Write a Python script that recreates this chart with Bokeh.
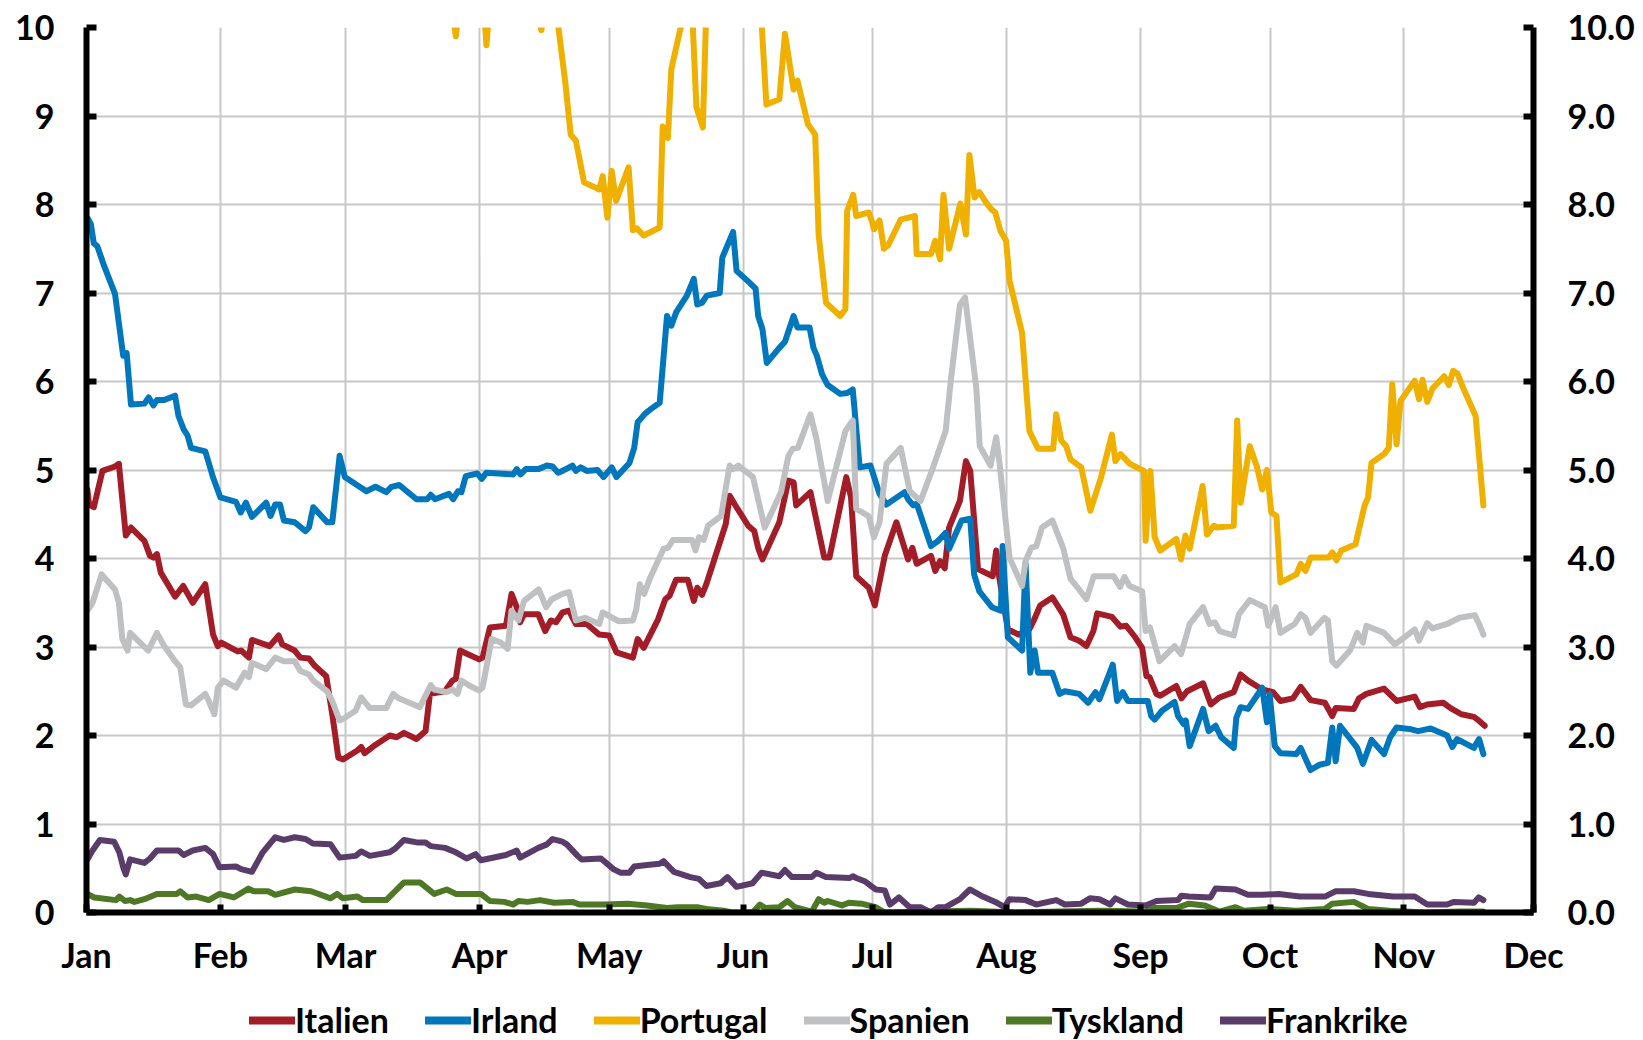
from bokeh.plotting import figure
from bokeh.models import (Range1d, LinearAxis, SingleIntervalTicker, MonthsTicker,
                          DatetimeTickFormatter, PrintfTickFormatter, Legend, LegendItem)
from bokeh.layouts import column
from bokeh.embed import file_html
from bokeh.resources import INLINE

# ---------------- data (day offset from 2012-01-01, value in %) ----------------
month_labels = ["Jan", "Feb", "Mar", "Apr", "May", "Jun", "Jul", "Aug", "Sep", "Oct", "Nov", "Dec"]
series_names = ["Italien", "Irland", "Portugal", "Spanien", "Tyskland", "Frankrike"]
series_colors = ["#A21D27", "#0077BD", "#EFB000", "#BFC0C2", "#4F7826", "#5A3C6A"]

it_days = [0.2, 0.6, 1.7, 3.7, 6.6, 7.5, 9.1, 10.3, 13.4, 14.7, 15.5, 16.3, 17.2, 20.5, 22.4, 24.6, 27.5,
           29.3, 30.4, 31.2, 35, 35.8, 37.6, 38.3, 42.4, 44.5, 45.3, 48.2, 49.5, 51.5, 52.8, 55.5, 56.9,
           58.3, 59.4, 62.7, 63.6, 64.4, 66.5, 70.2, 71.8, 73.5, 76.4, 78.5, 79.5, 83, 84.7, 85.5, 86.5,
           87.8, 90.9, 91.7, 93.4, 97.1, 98.4, 99.6, 100.4, 101.3, 104.6, 106.2, 107.5, 108.7, 110.2,
           111.7, 113.3, 115.8, 118.7, 121, 122.7, 126.5, 127.6, 129, 132.3, 134, 135, 136.5, 139.2,
           140.6, 141.4, 142.5, 143.5, 148, 148.9, 150.1, 153.2, 154.6, 155.5, 156.5, 160.4, 162.5,
           163.7, 164.3, 167.6, 170.8, 172, 175.9, 177, 178.2, 181.1, 182.5, 184.8, 187.5, 190.2, 191.2,
           192.2, 195.5, 196.5, 197.6, 198.7, 199.7, 202.2, 203.6, 204.6, 206.4, 209.8, 210.6, 211.3,
           213.3, 215.8, 218.3, 219.3, 220.8, 223.6, 226.1, 227.8, 229.8, 231.5, 233.1, 234, 237.4,
           239.4, 240.7, 242.8, 244.4, 245.4, 246.1, 247.7, 248.6, 252.3, 253.5, 254.8, 258.5, 260.3,
           262.3, 265.6, 267.2, 268.9, 272.2, 274.7, 276.4, 279.3, 281.1, 283.4, 286.7, 288.4, 289.2,
           293.4, 294.6, 296.3, 300.4, 303.3, 307.5, 308.7, 310.4, 314.1, 315.8, 318.3, 321.2, 322.3,
           323.7]
it_vals = [4.78, 4.61, 4.58, 4.99, 5.04, 5.07, 4.26, 4.35, 4.2, 4.03, 4.01, 4.05, 3.84, 3.57, 3.69, 3.5,
           3.71, 3.14, 3.01, 3.05, 2.95, 2.96, 2.88, 3.08, 3.01, 3.13, 3.03, 2.96, 2.88, 2.87, 2.79, 2.67,
           2.24, 1.75, 1.73, 1.83, 1.87, 1.8, 1.88, 2.0, 1.98, 2.03, 1.96, 2.05, 2.47, 2.5, 2.62, 2.64,
           2.96, 2.93, 2.86, 2.88, 3.22, 3.24, 3.6, 3.45, 3.28, 3.37, 3.37, 3.18, 3.3, 3.28, 3.39, 3.41,
           3.26, 3.26, 3.14, 3.13, 2.94, 2.88, 3.09, 2.99, 3.31, 3.54, 3.58, 3.76, 3.76, 3.52, 3.67, 3.59,
           3.71, 4.39, 4.71, 4.61, 4.37, 4.31, 4.12, 3.99, 4.41, 4.88, 4.86, 4.6, 4.75, 4.01, 4.01, 4.92,
           4.69, 3.8, 3.67, 3.47, 4.03, 4.41, 3.99, 4.12, 3.94, 4.03, 3.86, 3.97, 3.89, 4.35, 4.65, 5.1,
           4.99, 3.88, 3.8, 4.09, 3.79, 3.2, 3.14, 3.2, 3.3, 3.47, 3.56, 3.37, 3.11, 3.07, 3.01, 3.18,
           3.38, 3.34, 3.23, 3.24, 3.11, 2.99, 2.67, 2.66, 2.47, 2.45, 2.56, 2.42, 2.5, 2.59, 2.35, 2.43,
           2.49, 2.69, 2.62, 2.52, 2.49, 2.39, 2.42, 2.55, 2.4, 2.37, 2.22, 2.31, 2.3, 2.42, 2.47, 2.53,
           2.39, 2.44, 2.32, 2.35, 2.37, 2.31, 2.24, 2.21, 2.17, 2.11]

ie_days = [0.2, 1, 1.7, 2.5, 3.9, 6.6, 8.5, 9.3, 10.3, 13.4, 14.4, 15.5, 16.3, 18, 20.5, 21.3, 22.5, 23.4,
           24.2, 27.5, 28.8, 29.2, 31, 34.6, 35.7, 36.9, 38.3, 41.6, 42.6, 43.7, 44.8, 45.7, 48.2, 50.7,
           51.5, 52.5, 55.7, 56.9, 58.6, 59.8, 64.8, 66.9, 69.4, 70.6, 72.4, 76.4, 78.9, 79.7, 80.7, 83.9,
           84.9, 86, 86.8, 87.8, 90.5, 91.5, 92.6, 98.8, 99.6, 100.5, 101.7, 104.6, 106.6, 107.9, 109.2,
           110.2, 112.5, 113.3, 114.4, 115.8, 118.3, 119.7, 121.6, 122.7, 125.7, 126.8, 127.6, 129.4,
           130.7, 132.7, 134.4, 135.4, 136.5, 139, 140.6, 141.4, 142.5, 143.6, 146.6, 147.2, 149.7,
           150.5, 153, 154.9, 155.5, 156.5, 157.5, 160.4, 161.7, 163.7, 164.6, 167.4, 168.3, 169.1,
           170.3, 171.6, 174.5, 176.1, 177.4, 179, 181.5, 183.6, 185.2, 189.4, 190.2, 191.4, 192.2,
           195.5, 197.2, 198.9, 199.7, 202.6, 204.6, 205.5, 206.7, 209.6, 211.7, 212.1, 213.3, 216.6,
           217.4, 218.5, 219.5, 220.3, 223.6, 225.3, 226.5, 229.8, 231.9, 233.6, 234.5, 237.6, 238.6,
           239.9, 241.1, 245.7, 246.5, 247.3, 249, 251.9, 252.7, 254, 254.5, 255.4, 258.5, 259.8, 261.4,
           262.7, 265.6, 266.2, 267.2, 268.9, 272.2, 273.3, 273.9, 275.1, 276.4, 280.1, 281.1, 283.4,
           285.5, 287.4, 288.4, 289.2, 290.2, 294.2, 295.5, 297.5, 300.4, 301.8, 303.3, 306.7, 308.3,
           311.2, 315, 316.2, 317.3, 321.2, 322.4, 323.4]
ie_vals = [7.85, 7.78, 7.56, 7.53, 7.33, 6.99, 6.29, 6.32, 5.74, 5.75, 5.82, 5.73, 5.79, 5.79, 5.84, 5.61,
           5.46, 5.39, 5.25, 5.21, 5.0, 4.93, 4.69, 4.64, 4.52, 4.63, 4.47, 4.63, 4.48, 4.61, 4.61, 4.43,
           4.41, 4.31, 4.35, 4.58, 4.41, 4.41, 5.16, 4.92, 4.76, 4.81, 4.75, 4.81, 4.83, 4.67, 4.67, 4.72,
           4.67, 4.73, 4.67, 4.76, 4.75, 4.93, 4.96, 4.9, 4.97, 4.95, 5.01, 4.95, 5.01, 5.01, 5.05, 5.04,
           4.97, 4.99, 5.05, 4.99, 5.03, 4.99, 5.0, 4.92, 5.03, 4.92, 5.08, 5.25, 5.54, 5.64, 5.69, 5.76,
           6.74, 6.63, 6.78, 6.97, 7.16, 6.87, 6.89, 6.97, 7.0, 7.4, 7.69, 7.25, 7.14, 7.05, 6.74, 6.59,
           6.21, 6.38, 6.45, 6.74, 6.61, 6.61, 6.38, 6.29, 6.08, 5.96, 5.86, 5.87, 5.91, 5.03, 5.05, 4.73,
           4.61, 4.75, 4.67, 4.6, 4.62, 4.14, 4.2, 4.29, 4.11, 4.43, 4.45, 3.82, 3.63, 3.45, 3.41, 4.14,
           3.11, 2.96, 3.94, 2.71, 2.96, 2.71, 2.71, 2.47, 2.5, 2.47, 2.37, 2.49, 2.41, 2.8, 2.39, 2.49,
           2.39, 2.39, 2.22, 2.18, 2.28, 2.38, 2.22, 2.13, 2.17, 1.88, 2.3, 2.05, 2.11, 1.98, 1.86, 2.2,
           2.32, 2.3, 2.54, 2.15, 2.47, 1.88, 1.8, 1.79, 1.86, 1.61, 1.67, 1.69, 2.09, 1.71, 2.11, 1.86,
           1.68, 1.95, 1.79, 1.98, 2.09, 2.07, 2.05, 2.08, 2.0, 1.87, 1.96, 1.86, 1.96, 1.79]

pt_days = [0.2, 30, 60, 83, 85.5, 87, 91, 92.6, 94, 103.5, 105.3, 106.5, 109, 110.8, 112.1, 113.3, 115.2,
           117.9, 118.7, 119.5, 120.6, 121.6, 122.6, 125.5, 126.5, 127.4, 129, 132.7, 133.4, 134.6,
           135.4, 136.5, 138.5, 140.2, 141.2, 142.7, 143.6, 150, 156, 157.4, 160.4, 161.7, 162.9, 163.7,
           164.6, 167, 168.7, 169.5, 171.2, 174.5, 175.7, 176.1, 177.5, 178.2, 181.1, 181.9, 182.3,
           183.6, 184.6, 185.6, 188.5, 191.8, 192.2, 195.5, 196.5, 197.6, 198.4, 199.7, 202.3, 203.6,
           204.4, 205.6, 206.7, 208.3, 209.4, 210.4, 211.6, 212.9, 213.7, 216.6, 218.3, 220.3, 223.8,
           224.5, 225.7, 226.8, 227.8, 230.3, 232.4, 234.9, 237.4, 238.2, 239.4, 241.5, 244.8, 245.2,
           246.3, 247.3, 248.6, 252.3, 253.4, 254.4, 255.4, 258.4, 259.4, 261, 261.8, 265.6, 266.4,
           267.2, 269.3, 271, 272.2, 273.3, 274.3, 275.5, 276.4, 280.1, 281.1, 282.2, 283.4, 287.6,
           288.4, 289.4, 290.5, 293.8, 294.6, 295.9, 296.7, 297.5, 300.4, 301.5, 302.3, 303.3, 304.2,
           307.5, 308.5, 309.3, 310.4, 311.6, 314.3, 315.4, 316.4, 317.4, 318.7, 321.6, 323.4]
pt_vals = [13.5, 14.5, 12.5, 10.8, 9.9, 10.6, 10.9, 9.8, 10.7, 10.3, 9.97, 10.3, 10.1, 9.4, 8.79, 8.72,
           8.25, 8.19, 8.17, 8.32, 7.85, 8.38, 8.04, 8.42, 7.71, 7.73, 7.65, 7.74, 8.88, 8.75, 9.53, 9.77,
           10.2, 10.2, 9.1, 8.87, 10.4, 10.8, 10.3, 9.13, 9.19, 9.93, 9.55, 9.3, 9.4, 8.91, 8.79, 7.66,
           6.89, 6.74, 6.82, 7.93, 8.11, 7.87, 7.91, 7.8, 7.72, 7.82, 7.5, 7.54, 7.83, 7.87, 7.44, 7.44,
           7.59, 7.38, 8.11, 7.5, 8.01, 7.66, 8.56, 8.08, 8.14, 8.02, 7.95, 7.91, 7.7, 7.59, 7.14, 6.55,
           5.44, 5.24, 5.24, 5.63, 5.33, 5.27, 5.12, 5.03, 4.54, 4.92, 5.4, 5.1, 5.18, 5.07, 4.99, 4.2,
           4.99, 4.24, 4.09, 4.22, 3.99, 4.26, 4.11, 4.82, 4.27, 4.37, 4.35, 4.37, 5.56, 4.63, 5.27, 5.03,
           4.78, 5.0, 4.52, 4.48, 3.73, 3.82, 3.94, 3.86, 4.01, 4.01, 4.07, 3.98, 4.09, 4.16, 4.33, 4.6,
           4.69, 5.08, 5.18, 5.25, 5.97, 5.29, 5.78, 6.01, 5.8, 6.02, 5.77, 5.92, 6.06, 5.96, 6.12, 6.09,
           5.93, 5.61, 4.6]

es_days = [0.2, 1.4, 3.5, 6.6, 7.5, 8.3, 9.5, 10.1, 14.3, 16.3, 18, 20.5, 21.7, 23, 24.2, 27.5, 28.3,
           29.6, 30.4, 31.7, 34.6, 36.6, 37.6, 38.3, 41.6, 43.7, 45.7, 48.2, 49.5, 51.5, 52.5, 55.7, 56.9,
           58.6, 59.8, 62.3, 63.6, 65.6, 69.4, 71, 72.3, 77.2, 79.7, 80.5, 83.4, 84.7, 85.9, 86.8, 88.8,
           90.9, 91.7, 93.8, 95.9, 97.5, 98.4, 100, 101.3, 104.7, 106.4, 107.7, 110.2, 111.7, 113.3,
           115.4, 118.7, 119.5, 123.3, 126.5, 127.3, 128.1, 129.1, 130.4, 133.6, 134.6, 135.8, 140.2,
           141, 141.8, 142.9, 143.9, 146.9, 148.9, 149.7, 150.9, 154.3, 157, 160.8, 162.5, 163.5, 164.7,
           167.6, 169, 171.6, 175.7, 177.4, 178.2, 181.1, 182.3, 183.6, 185.2, 188.5, 190.6, 193.1, 196,
           198.9, 200.1, 202.2, 203.4, 206, 206.8, 209.3, 210.6, 211.4, 213.7, 216.6, 217.4, 218.7,
           219.9, 221.2, 223.6, 226.1, 227.8, 229.8, 231.5, 233.2, 237.8, 239.3, 240.3, 241.5, 244.4,
           245.2, 246.2, 248.4, 251.9, 253.4, 255.4, 258.5, 260, 261.2, 262.3, 265.6, 266.8, 269.3,
           272.8, 273.6, 275.3, 276.4, 279.7, 281.1, 282.2, 283.4, 286.6, 287.4, 288.4, 289.4, 292.5,
           294.2, 295.5, 296.3, 300.4, 302.9, 304.6, 307.5, 308.5, 310.4, 311.6, 315, 317.9, 321.4,
           322.4, 323.4]
es_vals = [3.41, 3.5, 3.82, 3.65, 3.5, 3.09, 2.96, 3.16, 2.96, 3.16, 3.01, 2.84, 2.77, 2.35, 2.34, 2.47,
           2.39, 2.24, 2.54, 2.62, 2.54, 2.71, 2.66, 2.82, 2.75, 2.88, 2.84, 2.84, 2.73, 2.69, 2.62, 2.5,
           2.39, 2.17, 2.2, 2.28, 2.43, 2.31, 2.31, 2.47, 2.42, 2.32, 2.57, 2.52, 2.49, 2.52, 2.47, 2.62,
           2.56, 2.51, 2.54, 3.09, 3.05, 2.98, 3.41, 3.3, 3.52, 3.65, 3.45, 3.54, 3.6, 3.62, 3.3, 3.33,
           3.26, 3.39, 3.29, 3.3, 3.43, 3.71, 3.6, 3.77, 4.11, 4.12, 4.21, 4.21, 4.09, 4.24, 4.21, 4.37,
           4.48, 5.05, 5.01, 5.05, 4.92, 4.35, 4.75, 5.16, 5.24, 5.25, 5.63, 5.35, 4.65, 5.44, 5.56, 4.56,
           4.48, 4.24, 4.41, 5.07, 5.25, 4.76, 4.65, 5.03, 5.44, 6.01, 6.87, 6.95, 5.93, 5.27, 5.05, 5.37,
           5.07, 4.01, 3.69, 3.97, 4.12, 4.14, 4.35, 4.43, 4.12, 3.77, 3.65, 3.54, 3.8, 3.8, 3.68, 3.79,
           3.69, 3.63, 3.18, 3.22, 2.84, 3.01, 2.92, 3.26, 3.45, 3.26, 3.28, 3.18, 3.13, 3.37, 3.53, 3.45,
           3.24, 3.45, 3.16, 3.26, 3.37, 3.33, 3.16, 3.33, 3.3, 2.84, 2.79, 2.96, 3.16, 3.05, 3.24, 3.16,
           3.03, 3.09, 3.2, 3.07, 3.27, 3.21, 3.26, 3.33, 3.36, 3.26, 3.14]

de_days = [0.2, 1.8, 6.8, 7.6, 8.9, 10.1, 11.1, 13.4, 16.3, 20.9, 21.7, 23.4, 25.4, 28.3, 30.8, 34.1,
           37.5, 38.7, 42, 43.7, 48.2, 52, 56.5, 58, 59.4, 62.7, 64, 69.4, 73.5, 77.2, 80.5, 83.4, 85.5,
           91.3, 93.4, 96.7, 98.8, 100, 102.1, 105, 108.3, 112.5, 114.1, 119.9, 125.3, 129.8, 134.4,
           136.9, 141.4, 143.5, 147.6, 149.3, 154.2, 155.9, 157.1, 160.4, 162.3, 164, 167.9, 169.5,
           170.8, 171.6, 174.9, 176.5, 179.4, 182.7, 184.8, 195, 205, 215, 225, 235, 245, 247.3, 252.3,
           255.2, 258.9, 262.3, 266, 268, 273.5, 280, 286.7, 288.4, 293.4, 296.7, 301.7, 310, 318, 323.3]
de_vals = [0.21, 0.17, 0.14, 0.18, 0.13, 0.14, 0.12, 0.15, 0.21, 0.21, 0.24, 0.17, 0.18, 0.14, 0.21, 0.17,
           0.27, 0.24, 0.24, 0.2, 0.26, 0.24, 0.16, 0.21, 0.16, 0.18, 0.14, 0.14, 0.34, 0.34, 0.21, 0.26,
           0.21, 0.21, 0.13, 0.12, 0.09, 0.13, 0.12, 0.14, 0.11, 0.12, 0.09, 0.09, 0.1, 0.08, 0.05, 0.06,
           0.06, 0.04, 0.02, 0.0, 0.0, 0.09, 0.05, 0.06, 0.13, 0.06, 0.01, 0.15, 0.11, 0.13, 0.08, 0.11,
           0.1, 0.06, 0.0, 0.01, 0.02, 0.0, 0.01, 0.02, 0.01, 0.05, 0.05, 0.1, 0.08, 0.01, 0.06, 0.02,
           0.04, 0.02, 0.04, 0.1, 0.12, 0.04, 0.02, 0.0, 0.01, 0.01]

fr_days = [0.2, 1.4, 3.1, 6.4, 7.6, 8.5, 9.1, 10.1, 13.4, 14.7, 16.3, 21.3, 22.5, 24.6, 27.5, 29.3, 30.8,
           34.6, 35.8, 38.3, 40.8, 43.7, 45.7, 48.2, 50.7, 52.4, 56.5, 58.6, 62.3, 63.6, 65.6, 70.2, 71.4,
           73.5, 76.8, 78.5, 79.7, 83, 85.5, 88, 90.1, 91.3, 97.1, 99.6, 100.4, 104.6, 106.6, 107.9,
           110.2, 111.2, 113.7, 114.6, 119.1, 122, 123.6, 125.7, 126.8, 130.3, 132.7, 133.6, 136, 139.8,
           141.8, 143.5, 146.8, 148.4, 150.5, 154.2, 156.3, 160.4, 161.7, 163.3, 167.9, 169, 171.2,
           176.7, 177.4, 178.2, 180.3, 182.7, 184.8, 186, 188.1, 190.6, 193.1, 195.5, 197.2, 198.9,
           202.2, 204.5, 207.1, 210.4, 212.5, 213.7, 217.4, 219.9, 224.5, 226.5, 230.3, 232.3, 234.5,
           237, 238.2, 241.1, 245.2, 247.7, 252.7, 253.5, 255.2, 260.2, 261.4, 266, 268.9, 272.2, 276,
           280.9, 286.7, 289.2, 293.4, 296.7, 302.5, 307.5, 310.4, 315, 316.6, 321.2, 322.3, 323.4]
fr_vals = [0.6, 0.7, 0.82, 0.8, 0.68, 0.51, 0.43, 0.6, 0.56, 0.61, 0.7, 0.7, 0.65, 0.7, 0.73, 0.66, 0.51,
           0.52, 0.49, 0.46, 0.68, 0.85, 0.82, 0.85, 0.83, 0.78, 0.77, 0.62, 0.64, 0.69, 0.64, 0.68, 0.72,
           0.82, 0.79, 0.79, 0.75, 0.73, 0.68, 0.61, 0.66, 0.59, 0.65, 0.7, 0.62, 0.73, 0.77, 0.83, 0.8,
           0.77, 0.64, 0.6, 0.61, 0.49, 0.45, 0.45, 0.52, 0.54, 0.55, 0.58, 0.46, 0.4, 0.38, 0.3, 0.33,
           0.4, 0.29, 0.33, 0.45, 0.41, 0.48, 0.4, 0.4, 0.45, 0.4, 0.39, 0.41, 0.39, 0.35, 0.26, 0.25,
           0.09, 0.17, 0.06, 0.06, 0.0, 0.06, 0.06, 0.15, 0.26, 0.19, 0.12, 0.06, 0.15, 0.14, 0.09, 0.14,
           0.09, 0.1, 0.16, 0.15, 0.09, 0.16, 0.09, 0.08, 0.13, 0.14, 0.19, 0.18, 0.17, 0.27, 0.26, 0.2,
           0.2, 0.21, 0.18, 0.18, 0.24, 0.24, 0.21, 0.18, 0.18, 0.09, 0.09, 0.12, 0.11, 0.17, 0.14]

# ---------------- figure ----------------
START_MS = 1325376000000.0   # 2012-01-01
DAY_MS = 86400000.0
FONT = "Lato"
FSIZE = "34px"

def to_ms(days):
    return [START_MS + d * DAY_MS for d in days]

p = figure(width=1640, height=980, x_axis_type="datetime",
           x_range=Range1d(START_MS, START_MS + 335 * DAY_MS), y_range=Range1d(0, 10),
           output_backend="svg", toolbar_location=None,
           min_border_left=86, min_border_right=107, min_border_top=27, min_border_bottom=68)
p.outline_line_color = None
p.background_fill_color = "white"

yt = SingleIntervalTicker(interval=1, num_minor_ticks=0)
mt = MonthsTicker(months=list(range(12)))
p.xaxis.ticker = mt
p.xaxis.formatter = DatetimeTickFormatter(months="%b", days="%b", years="%b")
p.yaxis.ticker = yt
p.xgrid.ticker = mt
p.ygrid.ticker = yt
for g in (p.xgrid, p.ygrid):
    g.grid_line_color = "#C8C8C8"
    g.grid_line_width = 2

p.extra_y_ranges = {"right": Range1d(0, 10)}
raxis = LinearAxis(y_range_name="right", ticker=SingleIntervalTicker(interval=1, num_minor_ticks=0),
                   formatter=PrintfTickFormatter(format="%.1f"))
p.add_layout(raxis, "right")

for ax in (p.xaxis[0], p.yaxis[0], raxis):
    ax.axis_line_color = "black"
    ax.axis_line_width = 6
    ax.major_tick_line_color = "black"
    ax.major_tick_line_width = 6
    ax.major_tick_in = 10
    ax.major_tick_out = 0
    ax.minor_tick_line_color = None
    ax.major_label_text_font = FONT
    ax.major_label_text_font_style = "bold"
    ax.major_label_text_font_size = FSIZE
    ax.major_label_text_color = "black"
p.yaxis[0].major_label_standoff = 32
raxis.major_label_standoff = 34
p.xaxis[0].major_label_standoff = 21
p.xaxis[0].major_tick_in = 8

all_days = [it_days, ie_days, pt_days, es_days, de_days, fr_days]
all_vals = [it_vals, ie_vals, pt_vals, es_vals, de_vals, fr_vals]
for name, color, d, v in zip(series_names, series_colors, all_days, all_vals):
    p.line(to_ms(d), v, line_color=color, line_width=6, line_join="round", line_cap="round")

# ---------------- legend strip (separate figure below) ----------------
lg = figure(width=1640, height=60, x_range=Range1d(0, 1), y_range=Range1d(0, 1),
            output_backend="svg", toolbar_location=None,
            x_axis_location=None, y_axis_location=None,
            min_border_left=0, min_border_right=0, min_border_top=0, min_border_bottom=0)
lg.outline_line_color = None
lg.xgrid.visible = False
lg.ygrid.visible = False
items = []
for name, color in zip(series_names, series_colors):
    # swatch renderer: its points lie outside the visible range, only the legend shows it
    sw = lg.line([5, 6], [5, 6], line_color=color, line_width=8, line_cap="round")
    items.append(LegendItem(label=name, renderers=[sw]))
legend = Legend(items=items, orientation="horizontal", location=(163, 0),
                label_text_font=FONT, label_text_font_style="bold", label_text_font_size=FSIZE,
                label_text_color="black", glyph_width=46, glyph_height=30, label_standoff=0,
                spacing=36, padding=0, margin=0, border_line_color=None, background_fill_alpha=0)
lg.add_layout(legend, "center")

open("out.html", "w").write(file_html(column(p, lg), INLINE))
